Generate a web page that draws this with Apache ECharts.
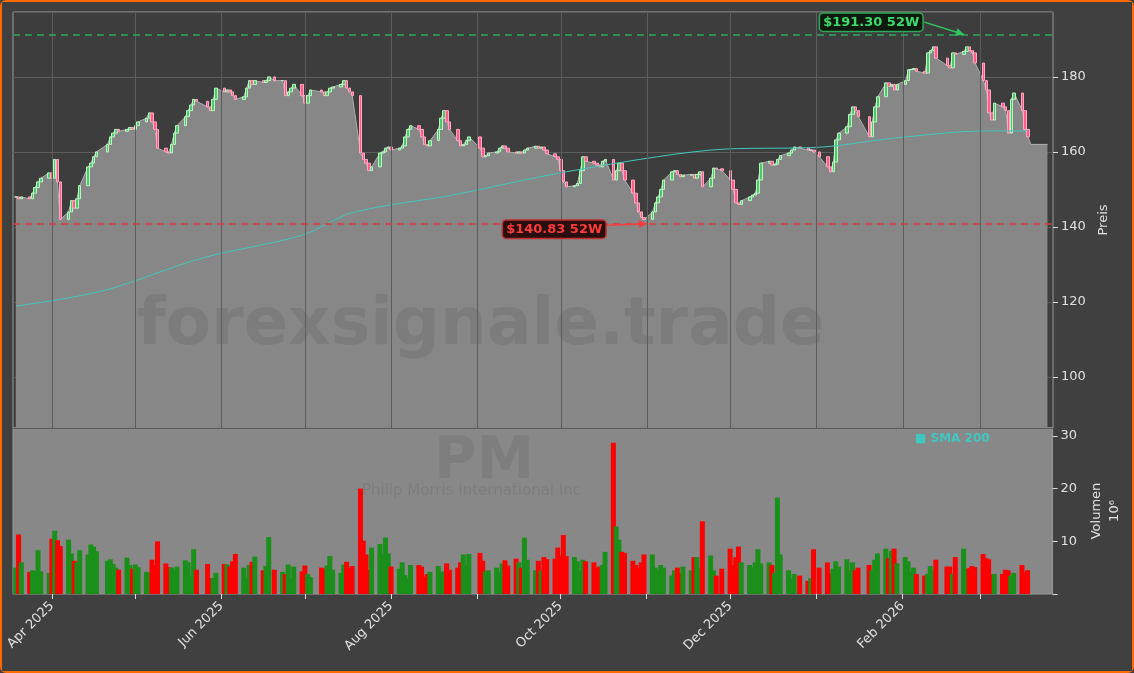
<!DOCTYPE html>
<html><head><meta charset="utf-8">
<script src="https://cdn.jsdelivr.net/npm/echarts@6/dist/echarts.min.js"></script>
<style>html,body{margin:0;padding:0;background:#404040;}#c{width:1134px;height:673px;box-sizing:border-box;border:2px solid #ff6a00;border-radius:6px;}</style>
</head><body><div id="c"></div>
<script>
const startDate = '2025-03-19', endDate = '2026-03-18';
const holidays = ['2025-04-18','2025-05-26','2025-06-19','2025-07-04','2025-09-01','2025-11-27','2025-12-25','2026-01-01','2026-01-19','2026-02-16'];
const closes = [148,147.5,148,147.5,149,150.5,152,153,154.4,153,158,152,142,144,147,145,147.5,151,156,157,
158.7,160,162,164,165,166,165.5,166,166.5,166,167,168,169,170.4,168,166,161,160,159.7,162,
165,167,169.4,171,172.5,174,173.5,172,171,174,177,176,176.5,176,175,174,174.7,177,179,178,
179,178.5,179,180,179,179,175,176,177,178,175,173,175,176.5,176,175,176,177,177.3,178,
179,177,176,175,159.7,158,157,155,156,159.7,160,161,161.3,160.5,161,161.6,164,166,167,166,
164,162,161.6,163,166,169,171,168,166,163,161.6,162,163,164,161,158.7,159,159.7,160,161,
161.6,161,160,159.7,160,159.7,160.5,161,161.5,161,161.3,160.5,159.5,158.7,158,155,152,150.7,151,151.6,
155,158.7,157.5,157,156.5,156,157.5,158,152.5,155,157,155,152.5,149,146.4,144,142.5,142,144,146.4,
148,150,152.5,154.7,155,154,153.4,153.8,154,153,154,154.7,150.7,153,155.7,155.5,155,152.5,150,146.4,
146,147,148,148.5,149,152.5,157,157.5,156.5,156.7,158,159,159.7,160.5,161.3,161,160.5,160.5,160,158.7,
156,154.7,157.3,163.2,165,166.7,170,172,171,169.4,164,168,172,174.7,178.4,177.5,178,176.5,178,179,
181.9,182,182.2,181.5,181,186.4,187,188,185,183,182.4,186.4,186,186.8,188,187,186.4,183.7,179,176.5,
170.4,168.5,173,172,171,165,174,175.7,171,166,164];
const lastPrice = 162, lastPriceUntil = '2026-03-25';
const volumes = [5.0,11.3,6.0,4.2,4.5,4.3,8.3,4.3,4.0,10.5,
12.0,10.2,9.1,10.3,7.7,6.3,6.0,8.3,7.5,9.4,
9.0,8.1,6.3,6.6,5.7,5.0,4.6,6.9,5.5,4.8,
5.6,5.1,4.2,4.0,6.5,5.5,10.0,5.8,5.1,5.0,
4.5,5.2,6.4,6.0,3.3,8.5,4.6,5.7,3.0,3.0,
4.0,5.7,5.6,5.2,6.2,7.6,5.0,3.0,5.5,6.1,
7.1,4.5,5.3,10.8,4.6,4.2,3.8,5.6,3.0,5.2,
4.3,5.4,3.8,3.2,5.0,4.8,5.4,7.2,4.6,4.0,
5.6,6.1,4.9,5.3,20.0,10.1,7.5,4.6,8.8,9.5,
7.6,10.7,7.7,5.2,4.8,6.0,3.6,3.0,5.5,5.5,
5.2,3.3,3.8,4.2,5.3,4.0,4.3,5.8,4.6,5.0,
6.0,7.5,5.5,7.6,7.8,6.3,4.3,4.5,5.0,4.1,
5.8,6.4,5.4,6.7,6.0,5.0,10.7,6.5,4.5,6.3,
4.4,7.0,6.6,6.7,8.8,7.3,11.2,7.2,7.0,6.2,
4.3,6.5,6.2,6.0,5.0,5.2,5.5,8.0,28.7,12.8,
10.3,8.0,7.8,6.3,5.5,5.0,6.0,7.5,7.5,5.0,
4.5,5.5,5.0,3.5,4.5,5.0,4.0,5.2,4.5,7.0,
7.0,5.0,13.8,7.3,4.5,3.5,4.8,8.6,5.5,7.0,
9.0,6.0,5.5,5.0,6.0,8.5,5.8,6.0,5.5,4.0,
18.3,7.5,4.5,2.8,3.8,3.5,2.5,3.0,8.5,5.0,
6.0,4.0,4.8,6.2,5.2,6.6,4.5,6.0,4.5,5.0,
5.5,4.5,6.5,7.7,8.6,6.8,8.2,8.6,5.8,7.0,
6.2,4.2,5.0,3.8,3.5,3.8,5.3,4.5,6.5,5.2,
5.2,3.8,7.0,8.6,4.7,4.9,5.3,5.1,7.6,6.8,
6.6,3.8,3.8,3.8,4.6,4.5,3.5,4.0,5.5,4.2,4.5];
const smaPoints = [['2025-03-19',118.9],['2025-04-19',122.9],['2025-05-25',131.7],['2025-06-30',137.8],['2025-07-18',143.8],['2025-08-23',148.5],['2025-10-03',154.7],['2025-11-24',160.5],['2026-01-03',161.3],['2026-01-29',163.7],['2026-03-03',165.6],['2026-03-18',165.6]];
const high52 = 191.3, low52 = 140.83;
const monthTicks = ['2025-04-01','2025-05-01','2025-06-01','2025-07-01','2025-08-01','2025-09-01','2025-10-01','2025-11-01','2025-12-01','2026-01-01','2026-02-01','2026-03-01'];
const labelMonths = ['Apr 2025','Jun 2025','Aug 2025','Oct 2025','Dec 2025','Feb 2026'];

const dates = [];
for (let d = new Date(startDate+'T00:00:00Z'); d <= new Date(endDate+'T00:00:00Z'); d.setUTCDate(d.getUTCDate()+1)) {
  const wd = d.getUTCDay(); const s = d.toISOString().slice(0,10);
  if (wd===0||wd===6||holidays.includes(s)) continue; dates.push(s);
}
const n = Math.min(dates.length, closes.length, volumes.length);
const ts = s => Date.parse(s+'T00:00:00Z');
const candles = [], area = [], vols = [];
for (let i=0;i<n;i++){
  const o = i===0?closes[0]:closes[i-1], c = closes[i];
  candles.push([ts(dates[i]), o, c, Math.min(o,c), Math.max(o,c)]);
  area.push([ts(dates[i]), c]);
  vols.push({value:[ts(dates[i]), volumes[i]], itemStyle:{color: c<o?'#ff0000':'#1a8f1a'}});
}
area.push([ts(dates[n-1])+86400000, lastPrice], [ts(lastPriceUntil), lastPrice]);
const tickVals = monthTicks.map(ts);
const MN=['Jan','Feb','Mar','Apr','May','Jun','Jul','Aug','Sep','Oct','Nov','Dec'];
const fmt = v => { const d=new Date(v); const s=MN[d.getUTCMonth()]+' '+d.getUTCFullYear(); return labelMonths.includes(s)?s:''; };
const xMin = ts('2025-03-18'), xMax = ts('2026-03-27');
const chart = echarts.init(document.getElementById('c'));
const xBase = {type:'value', min:xMin, max:xMax, axisLine:{show:false}, splitLine:{show:false}};
chart.setOption({
  backgroundColor:'#404040', animation:false,
  grid:[{left:11,right:79,top:10,height:416, show:true, backgroundColor:'#3d3d3d', borderColor:'#9a9a9a'},
        {left:11,right:79,top:426,height:166, show:true, backgroundColor:'#888888', borderColor:'#9a9a9a'}],
  xAxis:[
    Object.assign({gridIndex:0, axisLabel:{show:false}, axisTick:{show:false}}, xBase),
    Object.assign({gridIndex:1, axisTick:{show:true, customValues:tickVals, lineStyle:{color:'#ddd'}}, axisLabel:{customValues:tickVals, formatter:fmt, rotate:45, color:'#e0e0e0', fontSize:13, fontFamily:'DejaVu Sans', margin:10}}, xBase)
  ],
  yAxis:[
    {gridIndex:0, type:'value', position:'right', min:86.4, max:197.3, splitNumber:5, name:'Preis', nameLocation:'middle', nameRotate:90, nameGap:40, nameTextStyle:{color:'#e0e0e0',fontSize:13,fontFamily:'DejaVu Sans'},
     axisLine:{show:false}, axisTick:{show:true,length:5,lineStyle:{color:'#ddd'}}, axisLabel:{color:'#e0e0e0',fontSize:13,fontFamily:'DejaVu Sans',showMinLabel:false,showMaxLabel:false}, splitLine:{lineStyle:{color:'#5c5c5c'}}},
    {gridIndex:1, type:'value', position:'right', min:0, max:31.5, splitNumber:3, name:'Volumen\n10⁶', nameLocation:'middle', nameRotate:90, nameGap:30, nameTextStyle:{color:'#e0e0e0',fontSize:13,fontFamily:'DejaVu Sans',lineHeight:18},
     axisLine:{show:false}, axisTick:{show:true,length:5,lineStyle:{color:'#ddd'}}, axisLabel:{color:'#e0e0e0',fontSize:13,fontFamily:'DejaVu Sans',showMaxLabel:false,formatter:v=>v===0?'':v}, splitLine:{show:false}}
  ],
  series:[
    {type:'line', xAxisIndex:0, yAxisIndex:0, data:[], z:0, silent:true,
     markLine:{symbol:'none', silent:true, label:{show:false}, lineStyle:{color:'#5c5c5c', type:'solid', width:1}, data:tickVals.map(v=>({xAxis:v}))}},
    {type:'line', xAxisIndex:0, yAxisIndex:0, data:area, symbol:'none', lineStyle:{color:'#b0b0b0',width:1}, areaStyle:{color:'#878787',opacity:1, origin:'start'}, z:1},
    {type:'candlestick', xAxisIndex:0, yAxisIndex:0, data:candles, barWidth:3,
     itemStyle:{color:'#4fc86a', color0:'#ff5c8a', borderColor:'#b8f5c0', borderColor0:'#ffa8c0', borderWidth:1}, z:3,
     markLine:{symbol:'none', silent:true, label:{show:false}, data:[
       {yAxis:high52, lineStyle:{color:'#2fa85a', type:[7,5], width:1.5}},
       {yAxis:low52, lineStyle:{color:'#e03a3a', type:[7,5], width:1.5}}]}},
    {type:'line', xAxisIndex:0, yAxisIndex:0, data:smaPoints.map(p=>[ts(p[0]),p[1]]), symbol:'none', smooth:0.3, lineStyle:{color:'#40c8c0',width:1}, z:4},
    {type:'bar', xAxisIndex:1, yAxisIndex:1, data:vols, barWidth:5, z:3}
  ]
});
const hiPt = chart.convertToPixel({gridIndex:0}, [ts('2026-02-23'), high52]);
const hiLab = chart.convertToPixel({gridIndex:0}, [ts('2026-02-08'), 194.6]);
const loPt = chart.convertToPixel({gridIndex:0}, [ts('2025-11-01'), low52]);
const loLab = chart.convertToPixel({gridIndex:0}, [ts('2025-10-17'), 139.4]);
function arrow(a,b,color){
  const ang=Math.atan2(b[1]-a[1],b[0]-a[0]), L=8, W=4;
  const p1=[b[0]-L*Math.cos(ang)+W*Math.sin(ang), b[1]-L*Math.sin(ang)-W*Math.cos(ang)];
  const p2=[b[0]-L*Math.cos(ang)-W*Math.sin(ang), b[1]-L*Math.sin(ang)+W*Math.cos(ang)];
  return [{type:'line',shape:{x1:a[0],y1:a[1],x2:b[0],y2:b[1]},style:{stroke:color,lineWidth:1.5},z:50},
          {type:'polygon',shape:{points:[b,p1,p2]},style:{fill:color},z:50}];
}
chart.setOption({graphic:[
  {type:'text', x:135, y:292, style:{text:'forexsignale.trade', font:'bold 66px "DejaVu Sans"', fill:'rgba(0,0,0,0.08)'}, z:2},
  {type:'text', x:432, y:432, style:{text:'PM', font:'bold 58px "DejaVu Sans"', fill:'rgba(0,0,0,0.07)'}, z:2},
  {type:'text', x:360, y:482, style:{text:'Philip Morris International Inc', font:'15px "DejaVu Sans"', fill:'rgba(0,0,0,0.08)'}, z:1},
  {type:'text', x:913, y:431, style:{text:'■ SMA 200', font:'bold 12px "DejaVu Sans"', fill:'#40c8c0'}, z:20},
  {type:'text', x:hiLab[0], y:hiLab[1], style:{text:'$191.30 52W', font:'bold 13px "DejaVu Sans"', fill:'#3ddc6a', backgroundColor:'#0d1a0d', borderColor:'#2fa85a', borderWidth:1.5, borderRadius:3, padding:[2,3], align:'right', verticalAlign:'middle'}, z:60},
  ...arrow([hiLab[0]+2,hiLab[1]], hiPt, '#2fc860'),
  {type:'text', x:loLab[0], y:loLab[1], style:{text:'$140.83 52W', font:'bold 13px "DejaVu Sans"', fill:'#ff3b3b', backgroundColor:'#2a0d0d', borderColor:'#c03030', borderWidth:1.5, borderRadius:3, padding:[2,3], align:'right', verticalAlign:'middle'}, z:60},
  ...arrow([loLab[0]+2,loLab[1]-4], loPt, '#ff3b3b')
]});
</script></body></html>
